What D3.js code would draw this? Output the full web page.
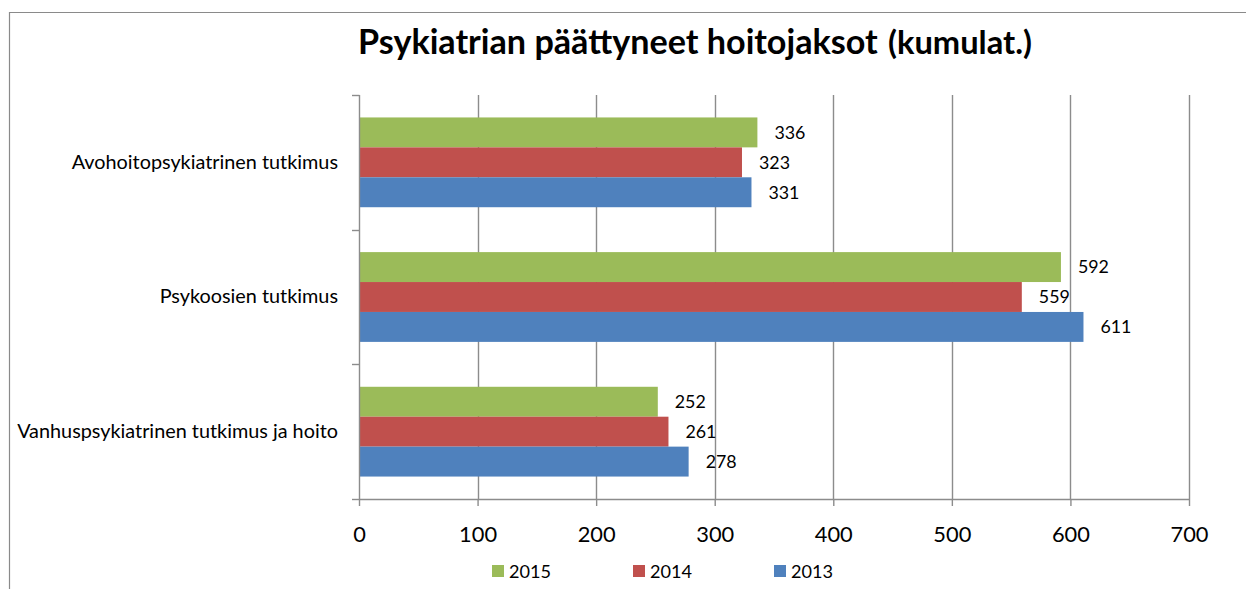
<!DOCTYPE html>
<html>
<head>
<meta charset="utf-8">
<script src="https://cdn.jsdelivr.net/npm/d3@7"></script>
<style>
  html, body { margin: 0; padding: 0; background: #fff; }
  svg { display: block; }
  text { font-family: Lato, "Open Sans", "DejaVu Sans", sans-serif; fill: #000; }
</style>
</head>
<body>
<svg id="chart" width="1246" height="589"></svg>
<script>
// ---- data ----
const categories = ["Avohoitopsykiatrinen tutkimus", "Psykoosien tutkimus", "Vanhuspsykiatrinen tutkimus ja hoito"];
const seriesNames = ["2015", "2014", "2013"];
const values2015 = [336, 592, 252];
const values2014 = [323, 559, 261];
const values2013 = [331, 611, 278];
const xTicks = [0, 100, 200, 300, 400, 500, 600, 700];
const titleMain = "Psykiatrian päättyneet hoitojaksot";
const titleSub = "(kumulat.)";

const seriesValues = { "2015": values2015, "2014": values2014, "2013": values2013 };
const colors = { "2015": "#9BBB59", "2014": "#C0504D", "2013": "#4F81BD" };

const svg = d3.select("#chart");
const W = 1246, H = 589;
svg.append("rect").attr("width", W).attr("height", H).attr("fill", "#fff");

// helper: font size so that a string gets a target width
function fitSize(str, target, weight) {
  const t = svg.append("text").attr("font-size", 100).attr("font-weight", weight || "normal").text(str);
  const w = t.node().getComputedTextLength();
  t.remove();
  return 100 * target / w;
}

// chart border
svg.append("path")
  .attr("d", `M9.5,${H} V12.5 H${W}`)
  .attr("fill", "none").attr("stroke", "#8a8a8a").attr("stroke-width", 1.2);

const plot = { left: 359, right: 1189, top: 95, bottom: 499 };
const x = d3.scaleLinear().domain([0, 700]).range([plot.left, plot.right]);
const y = d3.scaleBand().domain(categories).range([plot.top, plot.bottom])
  .paddingInner(1 / 3).paddingOuter(1 / 6);
const ys = d3.scaleBand().domain(seriesNames).range([0, y.bandwidth()]);

const gridColor = "#8c8c8c";

// vertical gridlines
svg.append("g").selectAll("line").data(xTicks.filter(d => d > 0)).join("line")
  .attr("x1", d => Math.round(x(d)) + 0.5).attr("x2", d => Math.round(x(d)) + 0.5)
  .attr("y1", plot.top).attr("y2", plot.bottom)
  .attr("stroke", gridColor).attr("stroke-width", 1.4);

// bars
const tickFs = fitSize("700", 38);
const labelFs = fitSize("336", 31);
const catFs = fitSize(categories[2], 321);

const groups = svg.append("g").selectAll("g").data(categories).join("g")
  .attr("transform", d => `translate(0,${y(d)})`);

groups.selectAll("rect")
  .data((c, i) => seriesNames.map(s => ({ s, v: seriesValues[s][i] })))
  .join("rect")
  .attr("x", x(0))
  .attr("y", d => ys(d.s))
  .attr("width", d => x(d.v) - x(0))
  .attr("height", ys.bandwidth())
  .attr("fill", d => colors[d.s]);

groups.selectAll("text.val")
  .data((c, i) => seriesNames.map(s => ({ s, v: seriesValues[s][i] })))
  .join("text").attr("class", "val")
  .attr("x", d => x(d.v) + 17)
  .attr("y", d => ys(d.s) + ys.bandwidth() / 2)
  .attr("dy", "0.36em")
  .attr("font-size", labelFs)
  .text(d => d.v);

// x axis
const xAxis = svg.append("g").attr("transform", `translate(0,${plot.bottom})`)
  .call(d3.axisBottom(x).tickValues(xTicks).tickSize(7).tickSizeOuter(0));
xAxis.select(".domain").attr("stroke", gridColor).attr("stroke-width", 1.4);
xAxis.selectAll(".tick line").attr("stroke", gridColor).attr("stroke-width", 1.4);
xAxis.selectAll(".tick text").attr("y", 43).attr("dy", 0)
  .attr("font-size", tickFs).attr("font-family", null).attr("fill", "#000");

// y axis line + boundary ticks
const bounds = [plot.top].concat(categories.map(c => y(c) + y.bandwidth() + y.step() * y.paddingOuter() * 2 - 0));
const boundaryYs = categories.map((c, i) => plot.top + y.step() * i).concat([plot.bottom]);
svg.append("line")
  .attr("x1", plot.left + 0.5).attr("x2", plot.left + 0.5)
  .attr("y1", plot.top).attr("y2", plot.bottom)
  .attr("stroke", gridColor).attr("stroke-width", 1.4);
svg.append("g").selectAll("line").data(boundaryYs).join("line")
  .attr("x1", plot.left - 7).attr("x2", plot.left + 0.5)
  .attr("y1", d => Math.round(d) + 0.5).attr("y2", d => Math.round(d) + 0.5)
  .attr("stroke", gridColor).attr("stroke-width", 1.4);

// category labels
const yAxis = svg.append("g").attr("transform", `translate(${plot.left},0)`)
  .call(d3.axisLeft(y).tickSize(0).tickPadding(21));
yAxis.select(".domain").remove();
yAxis.selectAll(".tick text").attr("font-size", catFs).attr("font-family", null).attr("fill", "#000");

// title
const mainFs = fitSize(titleMain, 520, "bold");
const subFs = fitSize(titleSub, 144, "bold");
const title = svg.append("text").attr("x", 358).attr("y", 54).attr("font-weight", "bold");
title.append("tspan").attr("font-size", mainFs).text(titleMain);
title.append("tspan").attr("font-size", subFs).attr("x", 888).text(titleSub);

// legend
const legendX = { "2015": 492, "2014": 633, "2013": 774 };
const leg = svg.append("g").selectAll("g").data(seriesNames).join("g")
  .attr("transform", d => `translate(${legendX[d]},565)`);
leg.append("rect").attr("width", 12).attr("height", 12).attr("fill", d => colors[d]);
leg.append("text").attr("x", 17).attr("y", 12.5).attr("font-size", fitSize("2015", 42)).text(d => d);
</script>
</body>
</html>
